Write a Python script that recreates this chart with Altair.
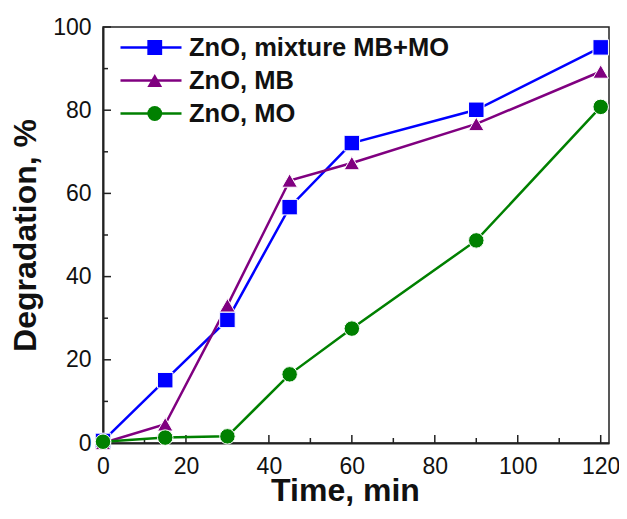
import altair as alt
import pandas as pd

time_min = [0, 15, 30, 45, 60, 90, 120]
mix_vals = [0.5, 15.1, 29.6, 56.7, 72.1, 80.1, 95.1]
mb_vals = [0, 4.5, 33.1, 63.1, 67.3, 76.7, 89.3]
mo_vals = [0.3, 1.3, 1.6, 16.5, 27.5, 48.7, 80.8]
series_names = ["ZnO, mixture MB+MO", "ZnO, MB", "ZnO, MO"]
series_colors = ["#0000FF", "#800080", "#008000"]
series_shapes = ["square", "triangle-up", "circle"]
x_ticks_major = [0, 20, 40, 60, 80, 100, 120]
x_ticks_minor = [10, 30, 50, 70, 90, 110]
y_ticks_major = [0, 20, 40, 60, 80, 100]
y_ticks_minor = [10, 30, 50, 70, 90]

rows = []
for name, vals in zip(series_names, [mix_vals, mb_vals, mo_vals]):
    for t, v in zip(time_min, vals):
        rows.append({"time": t, "deg": v, "series": name})
df = pd.DataFrame(rows)

FONT = "Liberation Sans"
W, H = 506, 416

xscale = alt.Scale(domain=[0, 122], nice=False, zero=False)
yscale = alt.Scale(domain=[0, 100], nice=False)

x_enc = alt.X("time:Q", scale=xscale, axis=alt.Axis(
    title="Time, min", values=x_ticks_major, tickSize=0, labelPadding=12,
    labelFontSize=23, labelFont=FONT, labelColor="#111", titleFont=FONT,
    titleFontSize=32, titleFontWeight="bold", titleColor="#111",
    titleX=242, titleY=57, titleAlign="center", titleBaseline="alphabetic",
    grid=False, domainColor="#222", domainWidth=2, labelFlush=False))
y_enc = alt.Y("deg:Q", scale=yscale, axis=alt.Axis(
    title="Degradation, %", values=y_ticks_major, tickSize=0, labelPadding=12,
    labelFontSize=23, labelFont=FONT, labelColor="#111", titleFont=FONT,
    titleFontSize=32, titleFontWeight="bold", titleColor="#111", titlePadding=10,
    grid=False, domainColor="#222", domainWidth=2, labelFlush=False))

lines = alt.Chart(df).mark_line(strokeWidth=2.5).encode(
    x=x_enc, y=y_enc,
    color=alt.Color("series:N", scale=alt.Scale(domain=series_names, range=series_colors),
                    sort=series_names,
                    legend=alt.Legend(title=None, orient="none", legendX=16, legendY=9,
                                      symbolType="stroke", symbolSize=3721, symbolStrokeWidth=2.5,
                                      labelFont=FONT, labelFontSize=25.5, labelFontWeight="bold",
                                      labelColor="#111", labelOffset=6, clipHeight=23,
                                      rowPadding=7, padding=0, labelLimit=0)),
)

points = alt.Chart(df).mark_point(filled=True, opacity=1, size=240, stroke="white", strokeWidth=1).encode(
    x=alt.X("time:Q", scale=xscale),
    y=alt.Y("deg:Q", scale=yscale),
    fill=alt.Fill("series:N", scale=alt.Scale(domain=series_names, range=series_colors),
                  sort=series_names, legend=None),
    shape=alt.Shape("series:N", scale=alt.Scale(domain=series_names, range=series_shapes),
                    sort=series_names,
                    legend=alt.Legend(title=None, orient="none", legendX=39, legendY=9,
                                      symbolSize=220, symbolStrokeWidth=0,
                                      labelFont=FONT, labelFontSize=25.5, labelOpacity=0,
                                      clipHeight=23, rowPadding=7, padding=0, labelLimit=0)),
)

xt_major = alt.Chart(pd.DataFrame({"v": x_ticks_major})).mark_rule(color="#222", strokeWidth=1.5).encode(
    x=alt.X("v:Q", scale=xscale), y=alt.value(H), y2=alt.value(H - 8))
xt_minor = alt.Chart(pd.DataFrame({"v": x_ticks_minor})).mark_rule(color="#222", strokeWidth=1.5).encode(
    x=alt.X("v:Q", scale=xscale), y=alt.value(H), y2=alt.value(H - 5))
yt_major = alt.Chart(pd.DataFrame({"v": y_ticks_major})).mark_rule(color="#222", strokeWidth=1.5).encode(
    y=alt.Y("v:Q", scale=yscale), x=alt.value(0), x2=alt.value(8))
yt_minor = alt.Chart(pd.DataFrame({"v": y_ticks_minor})).mark_rule(color="#222", strokeWidth=1.5).encode(
    y=alt.Y("v:Q", scale=yscale), x=alt.value(0), x2=alt.value(5))

chart = alt.layer(xt_major, xt_minor, yt_major, yt_minor, lines, points).resolve_scale(
    color="independent", fill="independent", shape="independent"
).properties(
    width=W, height=H,
    autosize=alt.AutoSizeParams(type="none"),
    padding={"left": 95, "top": 19, "right": 10, "bottom": 64},
    background="white",
).configure_view(stroke="#222", strokeWidth=1.5)

chart.save("out.html", embed_options={"renderer": "svg", "actions": False})
